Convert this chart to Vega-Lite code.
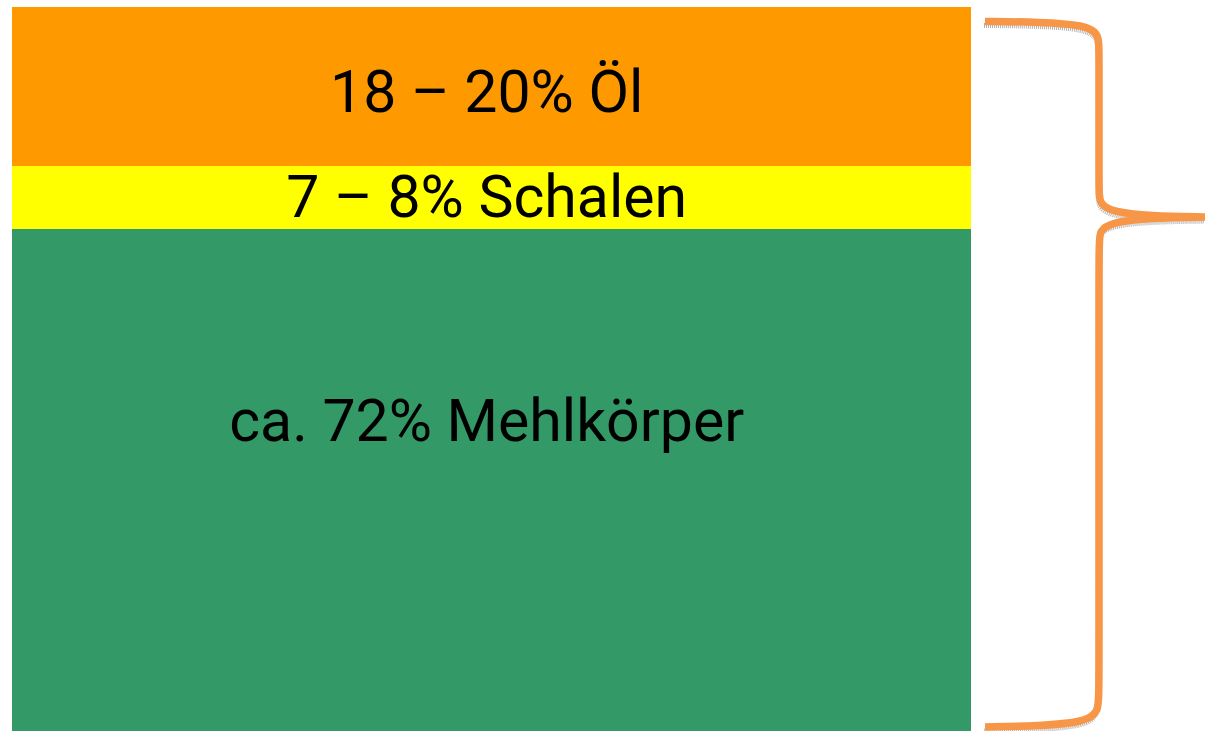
{
  "$schema": "https://vega.github.io/schema/vega-lite/v6.json",
  "width": 1205,
  "height": 731,
  "autosize": "none",
  "padding": 0,
  "background": "white",
  "config": {"view": {"stroke": null}},
  "datasets": {
    "segments": [
      {"part": "Öl", "label": "18 – 20% Öl", "top": 0, "bottom": 21.96, "left": 0, "right": 100, "labelX": 49.5, "labelY": 14.46},
      {"part": "Schalen", "label": "7 – 8% Schalen", "top": 21.96, "bottom": 30.66, "left": 0, "right": 100, "labelX": 49.5, "labelY": 28.96},
      {"part": "Mehlkörper", "label": "ca. 72% Mehlkörper", "top": 30.66, "bottom": 100, "left": 0, "right": 100, "labelX": 49.5, "labelY": 59.94}
    ],
    "brace": [
      {"i": 0, "bx": 101.46, "by": 2.0},
      {"i": 1, "bx": 107.19, "by": 2.07},
      {"i": 2, "bx": 111.89, "by": 2.49},
      {"i": 3, "bx": 113.35, "by": 3.73},
      {"i": 4, "bx": 113.35, "by": 5.94},
      {"i": 5, "bx": 113.35, "by": 25.28},
      {"i": 6, "bx": 113.35, "by": 27.07},
      {"i": 7, "bx": 114.7, "by": 28.31},
      {"i": 8, "bx": 118.67, "by": 28.87},
      {"i": 9, "bx": 124.4, "by": 29.01},
      {"i": 10, "bx": 124.4, "by": 29.01},
      {"i": 11, "bx": 124.4, "by": 29.01},
      {"i": 12, "bx": 118.67, "by": 29.14},
      {"i": 13, "bx": 114.7, "by": 29.7},
      {"i": 14, "bx": 113.35, "by": 30.94},
      {"i": 15, "bx": 113.35, "by": 32.73},
      {"i": 16, "bx": 113.35, "by": 94.34},
      {"i": 17, "bx": 113.35, "by": 97.38},
      {"i": 18, "bx": 111.89, "by": 98.76},
      {"i": 19, "bx": 107.19, "by": 99.31},
      {"i": 20, "bx": 101.46, "by": 99.45}
    ]
  },
  "layer": [
    {
      "data": {"name": "segments"},
      "mark": {"type": "rect"},
      "encoding": {
        "x": {"field": "left", "type": "quantitative", "scale": {"domain": [-1.251, 124.4], "nice": false, "zero": false}, "axis": null},
        "x2": {"field": "right"},
        "y": {"field": "top", "type": "quantitative", "scale": {"domain": [-0.967, 100], "nice": false, "zero": false, "reverse": true}, "axis": null},
        "y2": {"field": "bottom"},
        "color": {"field": "part", "type": "nominal", "scale": {"domain": ["Öl", "Schalen", "Mehlkörper"], "range": ["#FF9900", "#FFFF00", "#339966"]}, "legend": null}
      }
    },
    {
      "data": {"name": "segments"},
      "mark": {"type": "text", "font": "Roboto", "fontSize": 59, "color": "#000000", "align": "center", "baseline": "alphabetic"},
      "encoding": {
        "x": {"field": "labelX", "type": "quantitative"},
        "y": {"field": "labelY", "type": "quantitative"},
        "text": {"field": "label"}
      }
    },
    {
      "data": {"name": "brace"},
      "mark": {"type": "line", "interpolate": "basis", "color": "#7F7F7F", "strokeWidth": 5, "opacity": 0.6, "yOffset": 4, "xOffset": -1, "strokeDash": [1, 1]},
      "encoding": {
        "x": {"field": "bx", "type": "quantitative"},
        "y": {"field": "by", "type": "quantitative"},
        "order": {"field": "i"}
      }
    },
    {
      "data": {"name": "brace"},
      "mark": {"type": "line", "interpolate": "basis", "color": "#F79646", "strokeWidth": 7.5},
      "encoding": {
        "x": {"field": "bx", "type": "quantitative"},
        "y": {"field": "by", "type": "quantitative"},
        "order": {"field": "i"}
      }
    }
  ]
}
